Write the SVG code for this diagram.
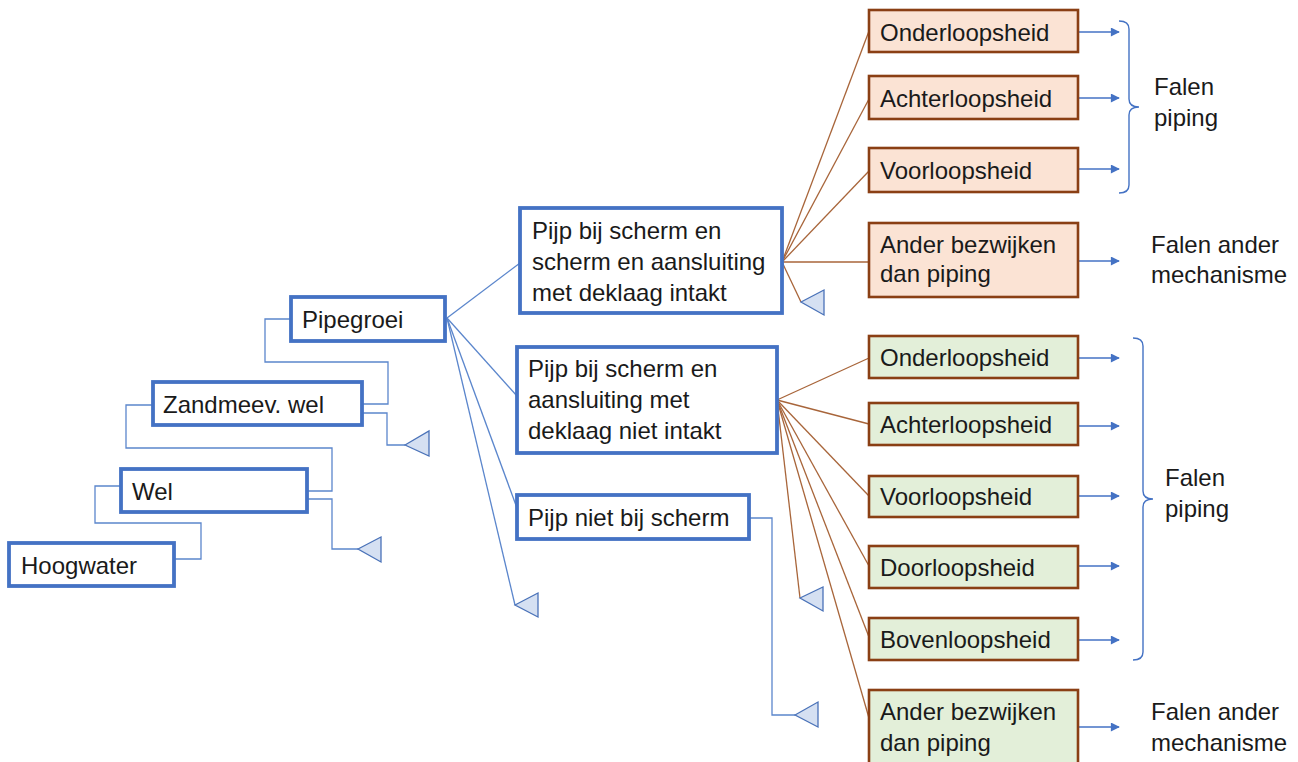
<svg xmlns="http://www.w3.org/2000/svg" width="1298" height="762" viewBox="0 0 1298 762">
  <style>
    text { font-family: "Liberation Sans", Arial, sans-serif; font-size: 24px; fill: #1a1a1a; }
    .event { fill: #ffffff; stroke: #4472c4; stroke-width: 3.8; }
    .orange { fill: #fbe3d4; stroke: #8a3f14; stroke-width: 2.6; }
    .green { fill: #e3efd9; stroke: #8a3f14; stroke-width: 2.6; }
    .link { fill: none; stroke: #5b86cc; stroke-width: 1.3; }
    .branch { fill: none; stroke: #a8653a; stroke-width: 1.3; }
    .stop { fill: #d5e0f2; stroke: #4a72b8; stroke-width: 1.3; }
    .arrow { fill: none; stroke: #4472c4; stroke-width: 1.4; marker-end: url(#head); }
    .brace { fill: none; stroke: #4472c4; stroke-width: 1.4; }
  </style>
  <defs>
    <marker id="head" viewBox="0 0 10 10" refX="9" refY="5" markerWidth="10" markerHeight="9" markerUnits="userSpaceOnUse" orient="auto">
      <path d="M0,0 L10,5 L0,10 Z" fill="#4472c4"/>
    </marker>
  </defs>
  <rect width="1298" height="762" fill="#ffffff"/>

  <!-- connectors -->
  <g id="connectors">
    <!-- chain of events -->
    <path class="link" d="M174,559 H201 V523 H95 V486 H121"/>
    <path class="link" d="M307,491 H332 V448 H126 V405 H153"/>
    <path class="link" d="M307,499 H332 V549 H358"/>
    <path class="link" d="M362,404 H388 V362 H265 V319 H291"/>
    <path class="link" d="M362,413 H387 V445 H405"/>
    <!-- Pipegroei fan -->
    <path class="link" d="M447,318 L520,263"/>
    <path class="link" d="M447,318 L517,396"/>
    <path class="link" d="M447,318 L517,508"/>
    <path class="link" d="M447,318 L515,605"/>
    <!-- Pijp niet bij scherm -->
    <path class="link" d="M749,518 H772 V715 H795"/>
    <!-- fan from intact screen -->
    <path class="branch" d="M782,262 L869,31"/>
    <path class="branch" d="M782,262 L869,99"/>
    <path class="branch" d="M782,262 L869,171"/>
    <path class="branch" d="M782,262 L869,262"/>
    <path class="branch" d="M782,262 L801,302"/>
    <!-- fan from non-intact screen -->
    <path class="branch" d="M777,400 L869,358"/>
    <path class="branch" d="M777,400 L869,424"/>
    <path class="branch" d="M777,400 L869,496"/>
    <path class="branch" d="M777,400 L869,566"/>
    <path class="branch" d="M777,400 L869,637"/>
    <path class="branch" d="M777,400 L869,718"/>
    <path class="branch" d="M777,400 L800,598"/>
    <!-- outcome arrows -->
    <path class="arrow" d="M1079,32 H1119"/>
    <path class="arrow" d="M1079,98 H1119"/>
    <path class="arrow" d="M1079,169 H1119"/>
    <path class="arrow" d="M1079,261 H1119"/>
    <path class="arrow" d="M1079,358 H1119"/>
    <path class="arrow" d="M1079,426 H1119"/>
    <path class="arrow" d="M1079,496 H1119"/>
    <path class="arrow" d="M1079,566 H1119"/>
    <path class="arrow" d="M1079,640 H1119"/>
    <path class="arrow" d="M1079,727 H1119"/>
    <!-- braces -->
    <path class="brace" d="M1119,21 Q1129,21 1129,29 V99 Q1129,107 1139,107 Q1129,107 1129,115 V185 Q1129,193 1119,193"/>
    <path class="brace" d="M1133,338 Q1143,338 1143,346 V491 Q1143,499 1153,499 Q1143,499 1143,507 V652 Q1143,660 1133,660"/>
  </g>

  <!-- end-of-branch triangles -->
  <g id="stops">
    <polygon class="stop" points="405,445 429,431 429,456"/>
    <polygon class="stop" points="358,549 381,537 381,562"/>
    <polygon class="stop" points="515,605 538,593 538,617"/>
    <polygon class="stop" points="801,302 824,290 824,315"/>
    <polygon class="stop" points="800,598 823,587 823,611"/>
    <polygon class="stop" points="795,715 818,702 818,727"/>
  </g>

  <!-- event nodes -->
  <g id="hoogwater"><rect class="event" x="9" y="543" width="165" height="43"/><text x="21" y="574">Hoogwater</text></g>
  <g id="wel"><rect class="event" x="121" y="469" width="186" height="43"/><text x="132" y="500">Wel</text></g>
  <g id="zandmeevoerende-wel"><rect class="event" x="153" y="382" width="209" height="43"/><text x="163" y="413">Zandmeev. wel</text></g>
  <g id="pipegroei"><rect class="event" x="291" y="297" width="154" height="44"/><text x="302" y="328">Pipegroei</text></g>
  <g id="pijp-scherm-intakt"><rect class="event" x="520" y="208" width="262" height="105"/>
    <text x="532" y="239">Pijp bij scherm en</text>
    <text x="532" y="270">scherm en aansluiting</text>
    <text x="532" y="301">met deklaag intakt</text>
  </g>
  <g id="pijp-scherm-niet-intakt"><rect class="event" x="517" y="347" width="260" height="106"/>
    <text x="528" y="377">Pijp bij scherm en</text>
    <text x="528" y="408">aansluiting met</text>
    <text x="528" y="439">deklaag niet intakt</text>
  </g>
  <g id="pijp-niet-bij-scherm"><rect class="event" x="517" y="495" width="232" height="44"/><text x="528" y="526">Pijp niet bij scherm</text></g>

  <!-- outcomes, intact screen -->
  <g id="a-onderloopsheid"><rect class="orange" x="869" y="10" width="209" height="42"/><text x="880" y="41">Onderloopsheid</text></g>
  <g id="a-achterloopsheid"><rect class="orange" x="869" y="76" width="209" height="43"/><text x="880" y="107">Achterloopsheid</text></g>
  <g id="a-voorloopsheid"><rect class="orange" x="869" y="148" width="209" height="44"/><text x="880" y="179">Voorloopsheid</text></g>
  <g id="a-ander"><rect class="orange" x="869" y="223" width="209" height="74"/>
    <text x="880" y="253">Ander bezwijken</text>
    <text x="880" y="282">dan piping</text>
  </g>

  <!-- outcomes, non-intact screen -->
  <g id="b-onderloopsheid"><rect class="green" x="869" y="336" width="209" height="42"/><text x="880" y="366">Onderloopsheid</text></g>
  <g id="b-achterloopsheid"><rect class="green" x="869" y="403" width="209" height="42"/><text x="880" y="433">Achterloopsheid</text></g>
  <g id="b-voorloopsheid"><rect class="green" x="869" y="476" width="209" height="41"/><text x="880" y="505">Voorloopsheid</text></g>
  <g id="b-doorloopsheid"><rect class="green" x="869" y="546" width="209" height="42"/><text x="880" y="576">Doorloopsheid</text></g>
  <g id="b-bovenloopsheid"><rect class="green" x="869" y="618" width="209" height="42"/><text x="880" y="648">Bovenloopsheid</text></g>
  <g id="b-ander"><rect class="green" x="869" y="690" width="209" height="80"/>
    <text x="880" y="720">Ander bezwijken</text>
    <text x="880" y="751">dan piping</text>
  </g>

  <!-- result labels -->
  <g id="falen-piping-1"><text x="1154" y="95">Falen</text><text x="1154" y="126">piping</text></g>
  <g id="falen-ander-1"><text x="1151" y="253">Falen ander</text><text x="1151" y="283">mechanisme</text></g>
  <g id="falen-piping-2"><text x="1165" y="486">Falen</text><text x="1165" y="517">piping</text></g>
  <g id="falen-ander-2"><text x="1151" y="720">Falen ander</text><text x="1151" y="751">mechanisme</text></g>
</svg>
